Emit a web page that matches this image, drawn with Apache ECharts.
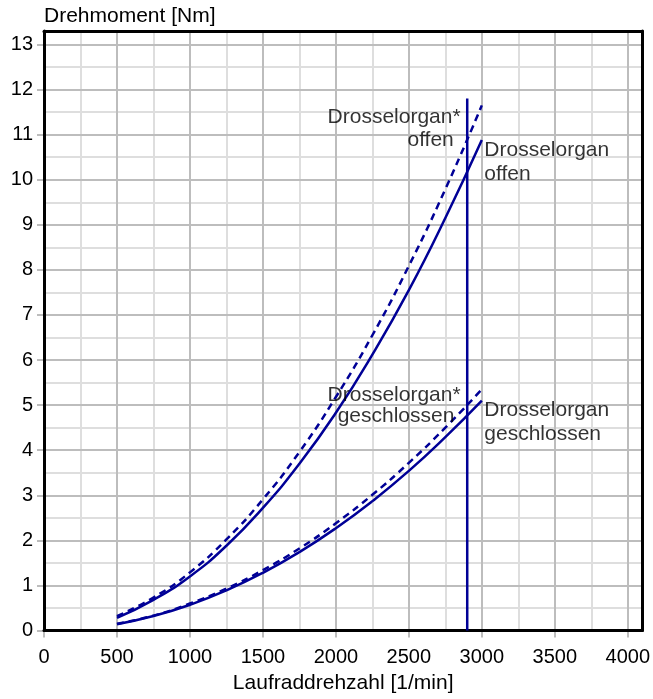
<!DOCTYPE html>
<html><head><meta charset="utf-8">
<script src="https://cdn.jsdelivr.net/npm/echarts@6/dist/echarts.min.js"></script>
<style>html,body{margin:0;padding:0;background:#fff}#c{width:653px;height:699px}</style>
</head><body><div id="c"></div>
<script>
// ---- data ----
const rpm = [500, 750, 1000, 1250, 1500, 1750, 2000, 2250, 2500, 2750, 3000];
const offenStar = [0.32, 0.73, 1.29, 2.02, 2.91, 3.96, 5.18, 6.55, 8.09, 9.79, 11.65];
const offen = [0.28, 0.68, 1.20, 1.88, 2.72, 3.70, 4.83, 6.12, 7.55, 9.15, 10.88];
const geschlossenStar = [0.15, 0.33, 0.60, 0.93, 1.34, 1.82, 2.38, 3.01, 3.72, 4.50, 5.35];
const geschlossen = [0.14, 0.32, 0.57, 0.89, 1.28, 1.74, 2.27, 2.87, 3.54, 4.29, 5.10];
const limitRpm = [2900, 2900];
const limitTorque = [0, 11.8];
const xTicks = [0, 500, 1000, 1500, 2000, 2500, 3000, 3500, 4000];
const yTicks = [0, 1, 2, 3, 4, 5, 6, 7, 8, 9, 10, 11, 12, 13];
const annTexts = ['Drosselorgan*', 'offen', 'Drosselorgan', 'offen', 'Drosselorgan*', 'geschlossen', 'Drosselorgan', 'geschlossen'];
const annX = [2855, 2808, 3017, 3017, 2855, 2812, 3017, 3017];
const annY = [11.39, 10.87, 10.65, 10.13, 5.23, 4.75, 4.88, 4.36];
const annAlign = ['right', 'right', 'left', 'left', 'right', 'right', 'left', 'left'];

const FONT = "'Liberation Sans', Arial, sans-serif";
const NAVY = '#000096';
const MAJOR = '#bdbdbd';
const MINOR = '#dedede';
const X_MAX = 4100, Y_MAX = 13.3;

const zip = (xs, ys) => xs.map((x, i) => [x, ys[i]]);
const hidden = { axisLine: { show: false }, axisTick: { show: false }, axisLabel: { show: false } };

const chart = echarts.init(document.getElementById('c'), null, { renderer: 'canvas' });
chart.setOption({
  animation: false,
  backgroundColor: '#fff',
  textStyle: { fontFamily: FONT },
  grid: { left: 44, right: 7, top: 31, bottom: 64, containLabel: false },
  xAxis: [
    { // major
      type: 'value', min: 0, max: X_MAX, interval: 500, position: 'bottom', z: 1,
      name: 'Laufraddrehzahl [1/min]', nameLocation: 'middle', nameGap: 53,
      nameTextStyle: { fontSize: 21, color: '#000', fontFamily: FONT, verticalAlign: 'middle' },
      axisLine: { show: false, onZero: false },
      axisTick: { show: true, length: 7, lineStyle: { color: MAJOR, width: 2 }, customValues: xTicks },
      axisLabel: { fontSize: 20, color: '#000', fontFamily: FONT, margin: 27, verticalAlign: 'middle',
        customValues: xTicks, formatter: v => (v % 500 === 0 && v <= 4000) ? String(v) : '' },
      splitLine: { show: true, lineStyle: { color: MAJOR, width: 2 } }
    },
    Object.assign({ // minor
      type: 'value', min: 0, max: X_MAX, interval: 250, position: 'bottom', z: 0,
      splitLine: { show: true, lineStyle: { color: MINOR, width: 2 } }
    }, hidden, { axisLine: { show: false, onZero: false } }),
    { // frame bottom
      type: 'value', min: 0, max: X_MAX, position: 'bottom', z: 2,
      axisLine: { show: true, onZero: false, lineStyle: { color: '#000', width: 3 } },
      axisTick: { show: false }, axisLabel: { show: false }, splitLine: { show: false }
    },
    { // frame top
      type: 'value', min: 0, max: X_MAX, position: 'top', z: 2,
      axisLine: { show: true, onZero: false, lineStyle: { color: '#000', width: 3 } },
      axisTick: { show: false }, axisLabel: { show: false }, splitLine: { show: false }
    }
  ],
  yAxis: [
    { // major
      type: 'value', min: 0, max: Y_MAX, interval: 1, position: 'left', z: 1,
      name: 'Drehmoment [Nm]', nameLocation: 'end', nameGap: 15,
      nameTextStyle: { fontSize: 21, color: '#000', fontFamily: FONT, align: 'left', verticalAlign: 'middle' },
      axisLine: { show: false, onZero: false },
      axisTick: { show: true, length: 7, lineStyle: { color: MAJOR, width: 2 }, customValues: yTicks },
      axisLabel: { fontSize: 20, color: '#000', fontFamily: FONT, margin: 11,
        customValues: yTicks, formatter: v => (Number.isInteger(v) && v <= 13) ? String(v) : '' },
      splitLine: { show: true, lineStyle: { color: MAJOR, width: 2 } }
    },
    Object.assign({ // minor
      type: 'value', min: 0, max: Y_MAX, interval: 0.5, position: 'left', z: 0,
      splitLine: { show: true, lineStyle: { color: MINOR, width: 2 } }
    }, hidden, { axisLine: { show: false, onZero: false } }),
    { // frame left
      type: 'value', min: 0, max: Y_MAX, position: 'left', z: 2,
      axisLine: { show: true, onZero: false, lineStyle: { color: '#000', width: 3 } },
      axisTick: { show: false }, axisLabel: { show: false }, splitLine: { show: false }
    },
    { // frame right
      type: 'value', min: 0, max: Y_MAX, position: 'right', z: 2,
      axisLine: { show: true, onZero: false, lineStyle: { color: '#000', width: 3 } },
      axisTick: { show: false }, axisLabel: { show: false }, splitLine: { show: false }
    }
  ],
  series: [
    { name: 'Drosselorgan* offen', type: 'line', z: 3, data: zip(rpm, offenStar), smooth: true, showSymbol: false, symbol: 'none',
      lineStyle: { color: NAVY, width: 2.5, type: [7, 5] } },
    { name: 'Drosselorgan offen', type: 'line', z: 3, data: zip(rpm, offen), smooth: true, showSymbol: false, symbol: 'none',
      lineStyle: { color: NAVY, width: 2.5 } },
    { name: 'Drosselorgan* geschlossen', type: 'line', z: 3, data: zip(rpm, geschlossenStar), smooth: true, showSymbol: false, symbol: 'none',
      lineStyle: { color: NAVY, width: 2.5, type: [7, 5] } },
    { name: 'Drosselorgan geschlossen', type: 'line', z: 3, data: zip(rpm, geschlossen), smooth: true, showSymbol: false, symbol: 'none',
      lineStyle: { color: NAVY, width: 2.5 } },
    { name: 'Grenzdrehzahl', type: 'line', z: 3, data: zip(limitRpm, limitTorque), showSymbol: false, symbol: 'none',
      lineStyle: { color: NAVY, width: 2.5 } },
    { name: 'Beschriftung', type: 'scatter', z: 4, silent: true, symbolSize: 1,
      itemStyle: { color: 'rgba(0,0,0,0)' },
      data: annTexts.map((t, i) => ({
        value: [annX[i], annY[i]],
        label: { show: true, position: 'inside', formatter: t, align: annAlign[i], verticalAlign: 'middle',
          fontSize: 21, color: '#000', fontFamily: FONT }
      }))
    }
  ]
});
</script>
</body></html>
